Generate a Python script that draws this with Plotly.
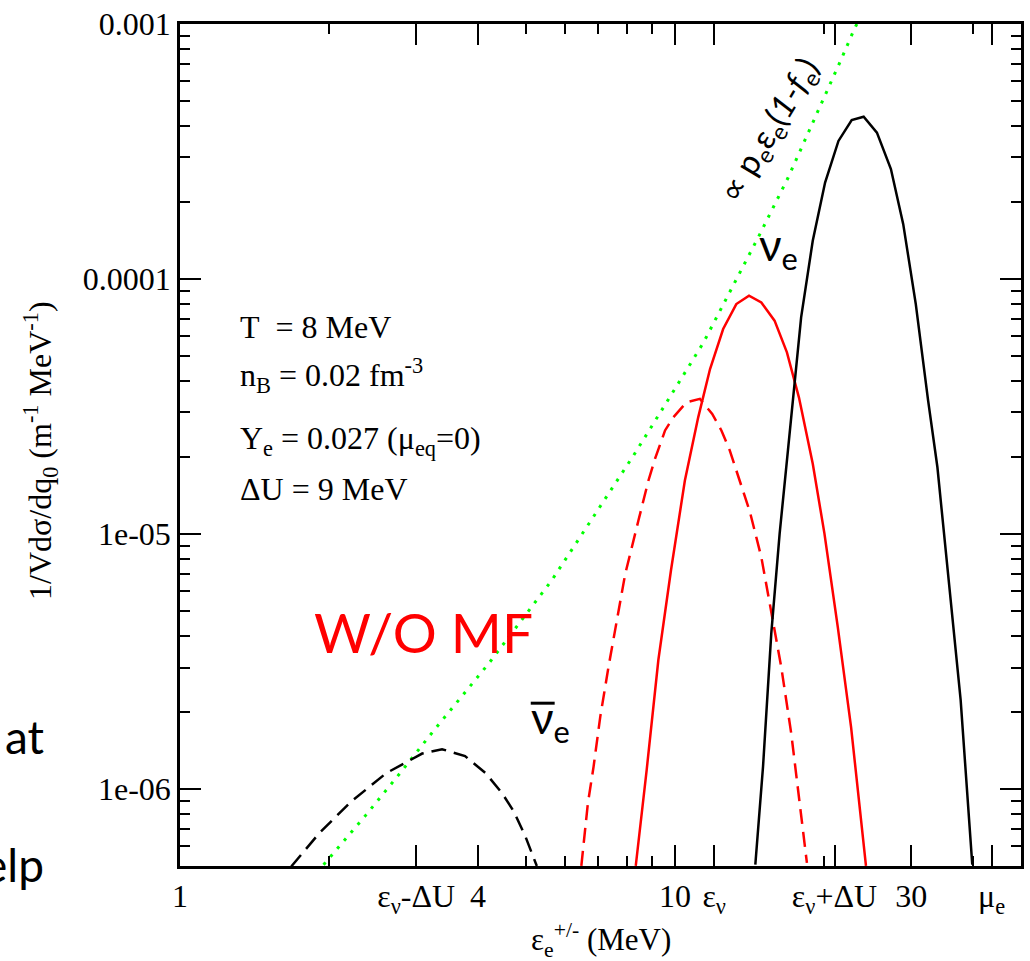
import math
import plotly.graph_objects as go

# ---------------- data ----------------
green_x = [1.95, 2.376, 2.786, 3.262, 4.209, 5.636, 6.976, 8.244, 9.694, 11.40,
           13.10, 14.75, 16.91, 19.61, 21.72, 23.07, 23.3]
green_y = [5.06e-7, 7.93e-7, 1.159e-6, 1.706e-6, 3.12e-6, 6.59e-6, 1.239e-5, 2.033e-5,
           3.37e-5, 5.61e-5, 9.42e-5, 1.466e-4, 2.49e-4, 4.68e-4, 7.35e-4, 9.63e-4, 1.0e-3]

black_dash_x = [1.678, 1.913, 2.217, 2.608, 3.085, 3.384, 3.766, 4.145, 4.476, 4.726, 4.989, 5.258]
black_dash_y = [4.98e-7, 6.74e-7, 8.94e-7, 1.155e-6, 1.380e-6, 1.435e-6, 1.349e-6, 1.155e-6,
                9.64e-7, 8.17e-7, 6.51e-7, 5.0e-7]

red_dash_x = [6.468, 6.668, 6.847, 7.063, 7.340, 7.628, 7.930, 8.437, 8.838, 9.114, 9.548,
              9.922, 10.55, 11.23, 11.58, 11.89, 12.41, 12.90, 13.30, 14.16, 14.94, 15.78,
              16.39, 17.17, 17.85, 18.47]
red_dash_y = [5.01e-7, 8.81e-7, 1.226e-6, 1.922e-6, 3.02e-6, 4.60e-6, 6.96e-6, 1.133e-5,
              1.623e-5, 1.976e-5, 2.55e-5, 2.87e-5, 3.29e-5, 3.39e-5, 3.14e-5, 2.96e-5,
              2.55e-5, 2.13e-5, 1.778e-5, 1.228e-5, 8.13e-6, 4.60e-6, 3.02e-6, 1.656e-6,
              9.08e-7, 5.14e-7]

red_solid_x = [8.331, 8.766, 9.255, 9.815, 10.47, 11.14, 11.77, 12.51, 13.30, 14.11, 14.94,
               15.89, 16.83, 17.80, 18.98, 20.04, 21.32, 22.68, 24.31]
red_solid_y = [5.01e-7, 1.191e-6, 3.21e-6, 7.22e-6, 1.623e-5, 2.87e-5, 4.44e-5, 6.37e-5,
               7.98e-5, 8.61e-5, 8.10e-5, 6.87e-5, 5.16e-5, 3.43e-5, 1.888e-5, 1.005e-5,
               4.33e-6, 1.757e-6, 5.01e-7]

black_solid_x = [14.53, 15.06, 15.65, 16.27, 16.91, 17.30, 17.98, 18.98, 20.10, 21.39, 22.75,
                 24.05, 25.58, 27.30, 28.91, 30.65, 32.46, 33.89, 36.06, 37.76, 39.86]
black_solid_y = [5.06e-7, 1.226e-6, 4.08e-6, 1.005e-5, 2.13e-5, 3.34e-5, 7.08e-5, 1.413e-4,
                 2.39e-4, 3.48e-4, 4.20e-4, 4.33e-4, 3.75e-4, 2.70e-4, 1.642e-4, 7.98e-5,
                 3.34e-5, 1.833e-5, 5.51e-6, 2.24e-6, 5.06e-7]

x_tick_vals = [1, 3, 4, 10, 12, 21, 30, 43.6]
x_tick_text = ["1", "ε<sub>ν</sub>-ΔU", "4", "10", "ε<sub>ν</sub>", "ε<sub>ν</sub>+ΔU", "30",
               "μ<sub>e</sub>"]
x_minor_vals = [2, 5, 6, 7, 8, 9, 20, 40]

y_tick_vals = [1e-3, 1e-4, 1e-5, 1e-6]
y_tick_text = ["0.001", "0.0001", "1e-05", "1e-06"]
y_minor_vals = [m * d for d in (1e-7, 1e-6, 1e-5, 1e-4) for m in range(2, 10)]

# ---------------- figure ----------------
W, H = 1030, 961
L, R, T, B = 180, 6, 23, 95
PW, PH = W - L - R, H - T - B


def px(x):
    return (x - L) / PW


def py(y):
    return (H - B - y) / PH


SERIF = "Liberation Serif, Times New Roman, serif"
SANS = "Lato, Noto Sans, sans-serif"

fig = go.Figure()
fig.add_trace(go.Scatter(x=green_x, y=green_y, mode="lines",
                         line=dict(color="#00ff00", width=3, dash="3px,7.5px")))
fig.add_trace(go.Scatter(x=black_dash_x, y=black_dash_y, mode="lines",
                         line=dict(color="black", width=2.5, dash="15px,8px")))
fig.add_trace(go.Scatter(x=red_dash_x, y=red_dash_y, mode="lines",
                         line=dict(color="#ff0000", width=2.5, dash="15px,8px")))
fig.add_trace(go.Scatter(x=red_solid_x, y=red_solid_y, mode="lines",
                         line=dict(color="#ff0000", width=2.5)))
fig.add_trace(go.Scatter(x=black_solid_x, y=black_solid_y, mode="lines",
                         line=dict(color="black", width=2.5)))

axis_common = dict(
    showgrid=False, zeroline=False, showline=True, linecolor="black", linewidth=2.5,
    mirror="ticks", ticks="inside", ticklen=21, tickwidth=2, tickcolor="black",
    tickfont=dict(family=SERIF, size=32, color="black"), ticklabelstandoff=0,
)

fig.update_layout(
    width=W, height=H, margin=dict(l=L, r=R, t=T, b=B),
    paper_bgcolor="white", plot_bgcolor="white", showlegend=False,
    xaxis=dict(type="log", range=[0, math.log10(50)], tickmode="array",
               tickvals=x_tick_vals, ticktext=x_tick_text,
               minor=dict(tickmode="array", tickvals=x_minor_vals, ticks="inside",
                          ticklen=10, tickwidth=2, tickcolor="black", showgrid=False),
               **axis_common),
    yaxis=dict(type="log", range=[math.log10(5e-7), -3], tickmode="array",
               tickvals=y_tick_vals, ticktext=y_tick_text,
               minor=dict(tickmode="array", tickvals=y_minor_vals, ticks="inside",
                          ticklen=10, tickwidth=2, tickcolor="black", showgrid=False),
               **axis_common),
)


def note(text, x, y, size, family=SERIF, color="black", xanchor="left",
         yanchor="middle", angle=0):
    fig.add_annotation(text=text, x=px(x), y=py(y), xref="paper", yref="paper",
                       showarrow=False, xanchor=xanchor, yanchor=yanchor,
                       textangle=angle, font=dict(family=family, size=size, color=color))


# axis titles
note("ε<sub>e</sub><sup>+/-</sup> (MeV)", 602, 916, 31, xanchor="center", yanchor="top")
note("1/Vdσ/dq<sub>0</sub> (m<sup>-1</sup> MeV<sup>-1</sup>)", 40, 450, 32,
     xanchor="center", angle=-90)

# parameter block
note("T&nbsp;&nbsp;= 8 MeV", 238, 326, 32)
note("n<sub>B</sub> = 0.02 fm<sup>-3</sup>", 238, 375, 32)
note("Y<sub>e</sub> = 0.027 (μ<sub>eq</sub>=0)", 238, 440, 32)
note("ΔU = 9 MeV", 238, 489, 32)

# labels
note("W/O MF", 424, 632, 55, family=SANS, color="#ff0000", xanchor="center")
note("ν<sub>e</sub>", 759, 247, 44, family=SANS)
note("ν<sub>e</sub>", 530, 720, 44, family=SANS)
fig.add_shape(type="line", xref="paper", yref="paper", x0=px(532), x1=px(556),
              y0=py(703), y1=py(703), line=dict(color="black", width=3))
note("∝ p<sub>e</sub>ε<sub>e</sub>(<i>1-f</i><sub>e</sub>)", 772, 130, 33, family=SANS,
     xanchor="center", angle=-59)

# slide remnants at the left edge
note("at", 2, 736, 46, family=SANS)
note("elp", 46, 864, 46, family=SANS, xanchor="right")

fig.write_html("out.html", config={"displayModeBar": False},
               post_script="document.body.style.margin='0px';")
